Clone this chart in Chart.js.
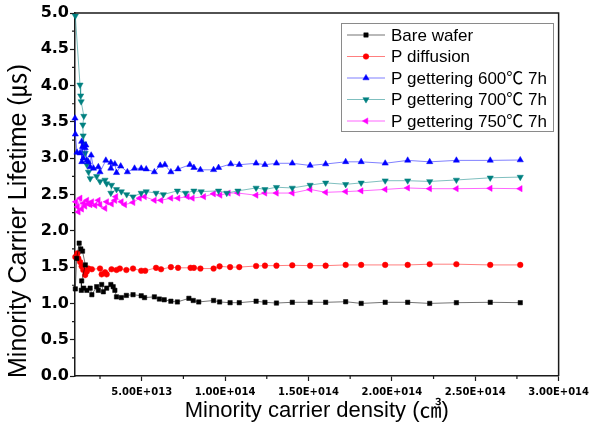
<!DOCTYPE html>
<html>
<head>
<meta charset="utf-8">
<script src="https://cdn.jsdelivr.net/npm/chart.js@4.4.1/dist/chart.umd.min.js"></script>
<style>
  body { margin: 0; background: #fff; }
  #wrap { position: relative; width: 594px; height: 435px; }
</style>
</head>
<body>
<div id="wrap"><canvas id="lifeChart" width="594" height="435"></canvas></div>
<script>
// values: [carrier density (cm^-3), lifetime (us)]
const bareWafer = [
  [1.02e13, 1.20], [1.10e13, 1.62], [1.25e13, 1.83], [1.35e13, 1.75], [1.45e13, 1.72],
  [1.62e13, 1.53], [1.40e13, 1.31], [1.38e13, 1.18], [1.52e13, 1.21], [1.71e13, 1.18],
  [1.91e13, 1.21], [2.01e13, 1.12], [2.30e13, 1.23], [2.40e13, 1.18], [2.60e13, 1.26],
  [2.70e13, 1.16], [2.90e13, 1.21], [3.15e13, 1.26], [3.29e13, 1.23], [3.39e13, 1.18],
  [3.49e13, 1.09], [3.78e13, 1.08], [4.08e13, 1.11], [4.48e13, 1.12], [4.97e13, 1.105],
  [5.17e13, 1.08], [5.76e13, 1.09], [6.06e13, 1.06], [6.35e13, 1.05], [6.75e13, 1.03],
  [7.14e13, 1.02], [7.83e13, 1.07], [8.09e13, 1.04], [8.42e13, 1.02], [9.31e13, 1.04],
  [9.67e13, 1.02], [10.3e13, 1.01], [10.85e13, 1.01], [11.86e13, 1.03], [12.39e13, 1.015],
  [13.08e13, 1.005], [14.03e13, 1.015], [15.1e13, 1.015], [16.03e13, 1.015], [17.23e13, 1.023],
  [18.16e13, 1.00], [19.6e13, 1.015], [20.95e13, 1.015], [22.27e13, 1.00], [23.87e13, 1.01],
  [25.9e13, 1.015], [27.7e13, 1.01]
];
const pDiffusion = [
  [1.02e13, 1.64], [1.15e13, 1.69], [1.20e13, 1.62], [1.31e13, 1.57], [1.40e13, 1.51],
  [1.50e13, 1.46], [1.61e13, 1.39], [1.65e13, 1.45], [1.71e13, 1.44], [1.81e13, 1.48],
  [2.01e13, 1.47], [2.50e13, 1.48], [2.60e13, 1.40], [2.80e13, 1.43], [2.90e13, 1.40],
  [3.19e13, 1.47], [3.49e13, 1.46], [3.69e13, 1.48], [4.08e13, 1.46], [4.48e13, 1.48],
  [4.97e13, 1.45], [5.21e13, 1.45], [5.86e13, 1.49], [6.16e13, 1.47], [6.75e13, 1.50],
  [7.18e13, 1.49], [7.93e13, 1.49], [8.13e13, 1.49], [8.52e13, 1.48], [9.31e13, 1.48],
  [9.67e13, 1.51], [10.3e13, 1.50], [10.85e13, 1.50], [11.86e13, 1.515], [12.39e13, 1.52],
  [13.08e13, 1.52], [14.03e13, 1.525], [15.1e13, 1.52], [16.03e13, 1.52], [17.23e13, 1.53],
  [18.16e13, 1.53], [19.6e13, 1.53], [20.95e13, 1.53], [22.27e13, 1.54], [23.87e13, 1.54],
  [25.9e13, 1.53], [27.7e13, 1.53]
];
const getter600 = [
  [1.00e13, 3.55], [1.02e13, 3.33], [1.12e13, 3.08], [1.30e13, 3.07], [1.40e13, 3.23],
  [1.41e13, 2.95], [1.45e13, 3.16], [1.50e13, 3.00], [1.61e13, 3.14], [1.65e13, 3.18],
  [1.71e13, 2.97], [1.80e13, 2.95], [1.91e13, 2.88], [1.97e13, 3.04], [2.11e13, 2.86],
  [2.40e13, 2.88], [2.50e13, 2.81], [2.85e13, 2.97], [3.15e13, 2.94], [3.15e13, 2.86],
  [3.39e13, 2.92], [3.49e13, 2.80], [3.74e13, 2.89], [4.14e13, 2.81], [4.57e13, 2.86],
  [4.97e13, 2.86], [5.27e13, 2.85], [5.76e13, 2.81], [6.11e13, 2.90], [6.39e13, 2.91],
  [6.75e13, 2.81], [7.18e13, 2.85], [7.89e13, 2.91], [8.13e13, 2.87], [8.52e13, 2.84],
  [9.31e13, 2.84], [9.61e13, 2.87], [10.34e13, 2.92], [10.85e13, 2.91], [11.86e13, 2.93],
  [12.39e13, 2.91], [13.08e13, 2.93], [14.03e13, 2.93], [15.1e13, 2.90], [16.03e13, 2.92],
  [17.23e13, 2.95], [18.16e13, 2.95], [19.6e13, 2.93], [20.95e13, 2.97], [22.27e13, 2.95],
  [23.87e13, 2.97], [25.9e13, 2.97], [27.7e13, 2.975]
];
const getter700 = [
  [1.02e13, 4.96], [1.30e13, 4.01], [1.34e13, 3.86], [1.37e13, 3.78], [1.53e13, 3.58],
  [1.47e13, 3.46], [1.49e13, 3.31], [1.52e13, 3.20], [1.61e13, 3.07], [1.71e13, 2.91],
  [1.81e13, 2.81], [1.91e13, 2.72], [2.30e13, 2.75], [2.50e13, 2.68], [2.80e13, 2.70],
  [2.90e13, 2.65], [3.19e13, 2.63], [3.15e13, 2.52], [3.49e13, 2.57], [3.78e13, 2.54],
  [4.10e13, 2.50], [4.48e13, 2.47], [4.97e13, 2.52], [5.27e13, 2.54], [5.86e13, 2.52],
  [6.30e13, 2.50], [7.14e13, 2.55], [7.63e13, 2.52], [8.13e13, 2.55], [8.57e13, 2.54],
  [9.61e13, 2.55], [10.1e13, 2.52], [10.77e13, 2.55], [11.86e13, 2.59], [12.39e13, 2.57],
  [13.08e13, 2.60], [14.03e13, 2.59], [15.1e13, 2.63], [16.03e13, 2.66], [17.23e13, 2.64],
  [18.16e13, 2.66], [19.6e13, 2.69], [20.95e13, 2.69], [22.27e13, 2.68], [23.87e13, 2.70],
  [25.9e13, 2.73], [27.7e13, 2.74]
];
const getter750 = [
  [1.05e13, 2.40], [1.20e13, 2.26], [1.15e13, 2.33], [1.31e13, 2.45], [1.40e13, 2.30],
  [1.51e13, 2.38], [1.60e13, 2.34], [1.71e13, 2.42], [1.80e13, 2.37], [1.91e13, 2.36],
  [2.01e13, 2.40], [2.20e13, 2.35], [2.40e13, 2.42], [2.50e13, 2.36], [2.80e13, 2.31],
  [2.90e13, 2.40], [3.19e13, 2.37], [3.39e13, 2.42], [3.45e13, 2.47], [3.78e13, 2.40],
  [3.98e13, 2.36], [4.48e13, 2.39], [4.87e13, 2.45], [5.17e13, 2.47], [5.76e13, 2.42],
  [6.16e13, 2.42], [6.75e13, 2.45], [7.18e13, 2.45], [7.74e13, 2.47], [8.04e13, 2.45],
  [8.72e13, 2.47], [9.31e13, 2.51], [9.70e13, 2.49], [10.2e13, 2.52], [10.77e13, 2.52],
  [11.86e13, 2.49], [12.39e13, 2.52], [13.08e13, 2.52], [14.03e13, 2.52], [15.1e13, 2.57],
  [16.03e13, 2.53], [17.23e13, 2.54], [18.16e13, 2.55], [19.6e13, 2.57], [20.95e13, 2.59],
  [22.27e13, 2.58], [23.87e13, 2.58], [25.9e13, 2.585], [27.7e13, 2.58]
];

const seriesLabels = ['Bare wafer', 'P diffusion', 'P gettering 600\u2103 7h', 'P gettering 700\u2103 7h', 'P gettering 750\u2103 7h'];
const xTicks = [5e13, 1e14, 1.5e14, 2e14, 2.5e14, 3e14];
const xMinorTicks = [2.5e13, 7.5e13, 1.25e14, 1.75e14, 2.25e14, 2.75e14];
const yMinorTicks = [0.25, 0.75, 1.25, 1.75, 2.25, 2.75, 3.25, 3.75, 4.25, 4.75];
const yTitle = 'Minority Carrier Lifetime (\u33b2)';
const xTitle = 'Minority carrier density (\u33a4)';

const FONT = "'Liberation Sans', Arial, 'Noto Sans CJK KR', sans-serif";
const TICK_FONT = "'DejaVu Sans', Verdana, sans-serif";
const INK = '#1a1a1a';

const styles = [
  { color: '#000000', line: 'rgba(0,0,0,0.55)', shape: 'rect', rot: 0, r: 3.1 },
  { color: '#ff0000', line: 'rgba(255,0,0,0.5)', shape: 'circle', rot: 0, r: 2.8 },
  { color: '#0000ff', line: 'rgba(0,0,255,0.5)', shape: 'triangle', rot: 0, r: 3.6 },
  { color: '#008080', line: 'rgba(0,128,128,0.5)', shape: 'triangle', rot: 180, r: 3.6 },
  { color: '#ff00ff', line: 'rgba(255,0,255,0.6)', shape: 'triangle', rot: 270, r: 3.6 }
];

function toPts(arr) {
  return arr.map(p => ({ x: p[0], y: p[1] }));
}

function sciLabel(v) {
  const parts = v.toExponential(2).split('e');
  const sign = parts[1][0];
  const exp = parts[1].slice(1).padStart(3, '0');
  return parts[0] + 'E' + sign + exp;
}

const allSeries = [bareWafer, pDiffusion, getter600, getter700, getter750];
const datasets = allSeries.map((s, i) => ({
  label: seriesLabels[i],
  data: toPts(s),
  showLine: true,
  borderColor: styles[i].line,
  borderWidth: 1,
  pointStyle: styles[i].shape,
  pointRotation: styles[i].rot,
  pointRadius: styles[i].r,
  pointBackgroundColor: styles[i].color,
  pointBorderColor: styles[i].color,
  pointBorderWidth: 0.5,
  clip: false
}));

// minor ticks, top/right frame, y title
const framePlugin = {
  id: 'frame',
  afterDraw(chart) {
    const { ctx, chartArea: a, scales } = chart;
    ctx.save();
    ctx.strokeStyle = INK;
    ctx.lineWidth = 1.2;
    ctx.beginPath();
    xMinorTicks.forEach(v => {
      const px = scales.x.getPixelForValue(v);
      ctx.moveTo(px, a.bottom);
      ctx.lineTo(px, a.bottom + 3);
    });
    yMinorTicks.forEach(v => {
      const py = scales.y.getPixelForValue(v);
      ctx.moveTo(a.left, py);
      ctx.lineTo(a.left - 3, py);
    });
    ctx.stroke();
    ctx.lineWidth = 1.5;
    ctx.beginPath();
    ctx.moveTo(a.left, a.top);
    ctx.lineTo(a.right, a.top);
    ctx.lineTo(a.right, a.bottom);
    ctx.stroke();

    // y title sits a bit below the axis centre, as in the source figure
    ctx.translate(19, 221);
    ctx.rotate(-Math.PI / 2);
    ctx.fillStyle = '#000';
    ctx.font = '25px ' + FONT;
    ctx.textAlign = 'center';
    ctx.textBaseline = 'middle';
    ctx.fillText(yTitle, 0, 0);
    ctx.restore();
  }
};

// boxed legend inside the plot, upper right
const legendPlugin = {
  id: 'boxLegend',
  afterDraw(chart) {
    const ctx = chart.ctx;
    const bx = 341.5, by = 23.5, bw = 212, bh = 108;
    const rowY = 35, rowStep = 21.5;
    ctx.save();
    ctx.strokeStyle = '#8a8a8a';
    ctx.lineWidth = 1;
    ctx.strokeRect(bx, by, bw, bh);
    ctx.font = '17px ' + FONT;
    ctx.textBaseline = 'middle';
    chart.data.datasets.forEach((ds, i) => {
      const y = rowY + i * rowStep;
      ctx.strokeStyle = styles[i].line;
      ctx.lineWidth = 1;
      ctx.beginPath();
      ctx.moveTo(347, y);
      ctx.lineTo(385, y);
      ctx.stroke();
      ctx.fillStyle = styles[i].color;
      ctx.strokeStyle = styles[i].color;
      ctx.lineWidth = 0.5;
      Chart.helpers.drawPoint(ctx, {
        pointStyle: styles[i].shape, rotation: styles[i].rot,
        radius: styles[i].r, borderWidth: 0.5
      }, 366, y);
      ctx.fillStyle = '#000';
      ctx.fillText(ds.label, 391, y + 1);
    });
    ctx.restore();
  }
};

new Chart(document.getElementById('lifeChart'), {
  type: 'scatter',
  data: { datasets },
  options: {
    responsive: false,
    animation: false,
    layout: { padding: { left: 0, right: 28, top: 13, bottom: 0 } },
    plugins: {
      legend: { display: false },
      tooltip: { enabled: false }
    },
    scales: {
      x: {
        type: 'linear',
        min: 1e13,
        max: 3e14,
        afterBuildTicks: scale => { scale.ticks = xTicks.map(v => ({ value: v })); },
        afterFit: scale => { scale.height = 59; },
        grid: { display: true, drawOnChartArea: false, drawTicks: true, tickLength: 5, tickWidth: 1.2, tickColor: INK },
        border: { display: true, color: INK, width: 1.5 },
        ticks: {
          padding: 5,
          maxRotation: 0,
          autoSkip: false,
          color: '#000',
          font: { family: TICK_FONT, size: 10, weight: 'bold' },
          callback: v => sciLabel(v)
        },
        title: {
          display: true,
          text: xTitle,
          color: '#000',
          font: { family: FONT, size: 22 },
          padding: { top: 0, bottom: 11 }
        }
      },
      y: {
        min: 0,
        max: 5,
        afterFit: scale => { scale.width = 75; },
        grid: { display: true, drawOnChartArea: false, drawTicks: true, tickLength: 5, tickWidth: 1.2, tickColor: INK },
        border: { display: true, color: INK, width: 1.5 },
        ticks: {
          stepSize: 0.5,
          padding: 1,
          color: '#000',
          font: { family: TICK_FONT, size: 16, weight: 'bold' },
          callback: v => v.toFixed(1)
        },
        title: { display: false }
      }
    }
  },
  plugins: [framePlugin, legendPlugin]
});
</script>
</body>
</html>
